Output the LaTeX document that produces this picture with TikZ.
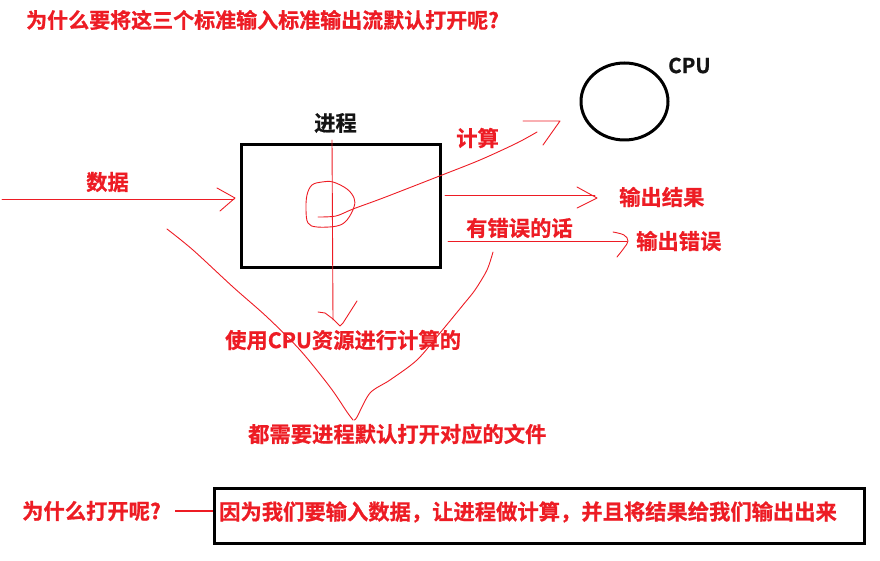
\documentclass[tikz,border=0pt]{standalone}
\usepackage{fontspec}
\setmainfont{Noto Sans CJK SC}[BoldFont={* Bold},BoldFeatures={FakeBold=0.8}]
\usetikzlibrary{shapes.geometric}
\definecolor{pred}{RGB}{237,28,36}
\definecolor{pblack}{RGB}{20,20,20}
\begin{document}
\begin{tikzpicture}[x=1pt,y=-1pt,
  lbl/.style={anchor=west,inner sep=0pt,text=pred,font=\bfseries\fontsize{21.3}{24}\selectfont},
  blbl/.style={lbl,text=pblack},
  pen/.style={draw=pred,line width=0.9pt,line cap=round,line join=round},
  thick box/.style={draw=black,line width=3pt}]
\useasboundingbox (0,0) rectangle (880,561);
% boxes
\node[thick box,minimum width=199pt,minimum height=122pt,inner sep=0pt] (proc) at (340.5,206) {};
\node[thick box,ellipse,minimum width=87pt,minimum height=77pt,inner sep=0pt] (cpu) at (624.5,101.5) {};
\node[thick box,minimum width=650pt,minimum height=55pt,inner sep=0pt] (box) at (539,515.5) {};
% labels
\node[lbl,font=\bfseries\fontsize{21}{24}\selectfont] (title) at (26,20) {为什么要将这三个标准输入标准输出流默认打开呢?};
\node[blbl,font=\bfseries\fontsize{20.5}{24}\selectfont] (cpulbl) at (668,65.5) {CPU};
\node[blbl] (proclbl) at (314,123) {进程};
\node[lbl] (calc) at (456,138) {计算};
\node[lbl] (data) at (86,182) {数据};
\node[lbl] (out) at (619,197) {输出结果};
\node[lbl] (errif) at (466,228) {有错误的话};
\node[lbl] (outerr) at (636,241) {输出错误};
\node[lbl] (usecpu) at (225,340) {使用CPU资源进行计算的};
\node[lbl] (need) at (248,434) {都需要进程默认打开对应的文件};
\node[lbl] (why) at (22,511) {为什么打开呢?};
\node[lbl] (reason) at (219,512) {因为我们要输入数据，让进程做计算，并且将结果给我们输出出来};
% connector why -> box
\draw[pred,line width=1.6pt] ([xshift=14pt]why.east) -- (why.east -| box.west);
% free ends
\coordinate (d0) at (2,199);
\coordinate (d1) at (234,199);
\coordinate (v0) at (332,140);
\coordinate (v1) at (333,320);
\coordinate (o0) at (445,195);
\coordinate (o1) at (595,195);
\coordinate (e0) at (448,241);
\coordinate (e1) at (627,241);
% data arrow
\draw[pen] (d0) -- (d1);
\draw[pen] (217,188) -- (235,198) -- (220,211);
% vertical arrow
\draw[pen] (v0) -- (v1);
\draw[pen] (318,312) -- (325,313) -- (333,319) -- (340,326) -- (343,323) -- (350,312) -- (357,301);
% loop
\draw[pen] plot[smooth cycle,tension=0.6] coordinates {(312,185) (322,182) (333,182) (347,189) (354,198) (354,207) (347,220) (337,226) (317,227) (308,223) (306,210) (307,195)};
% compute curve
\draw[pen] plot[smooth,tension=0.5] coordinates {(318,217) (336,216) (353,209) (383,198) (437,177) (480,160) (517,143) (537,132)};
\draw[pen] (523,121) -- (560,121) -- (543,145);
% output arrow
\draw[pen] (o0) -- (o1);
\draw[pen] (577,187) -- (597,198) -- (577,208);
% error arrow
\draw[pen] (e0) -- (e1);
\draw[pen] plot[smooth,tension=0.6] coordinates {(613,232) (624,235) (628,241) (624,248) (617,257)};
% V lines
\draw[pen] plot[smooth,tension=0.5] coordinates {(167,229) (193,250) (233,287) (267,317) (300,350) (330,387) (347,412) (353,420)};
\draw[pen] plot[smooth,tension=0.5] coordinates {(493,252) (487,270) (475,290) (463,305) (440,333) (417,360) (390,380) (370,393) (357,417) (354,420)};
\end{tikzpicture}
\end{document}
